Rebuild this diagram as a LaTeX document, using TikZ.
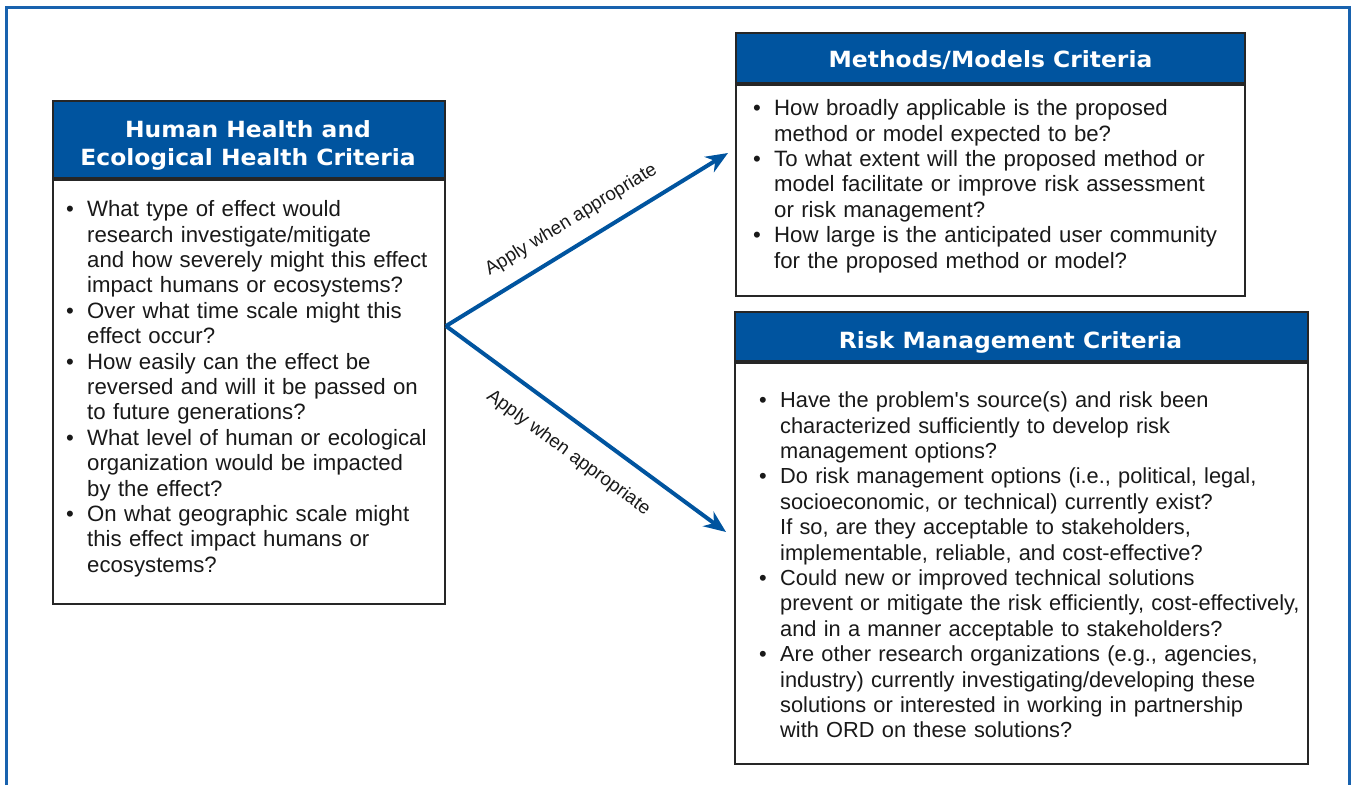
\documentclass[tikz,border=0pt]{standalone}
\usepackage{fontspec}
\setmainfont{Liberation Sans}
\newfontfamily\hdrfont[FakeStretch=1.05]{DejaVu Sans}
\usetikzlibrary{arrows.meta,positioning}
\definecolor{epablue}{RGB}{0,84,159}
\definecolor{framecol}{RGB}{24,98,174}
\newcommand{\bul}{\par\hangindent=21pt\hangafter=1\noindent\makebox[21pt][l]{\strut\textbullet}}
\newcommand{\nl}{\newline}
\tikzset{
  critbox/.style={draw=black!85, line width=2pt, fill=white, inner sep=0pt},
  hdrbox/.style={draw=black!85, line width=2pt, fill=epablue, inner sep=0pt},
  hdrtxt/.style={text=white, inner sep=0pt, align=center, font=\hdrfont\bfseries\fontsize{22.3}{28}\selectfont},
  crit/.style={anchor=north west, inner sep=0pt, align=left, text=black!90, font=\fontsize{22.2}{25.4}\selectfont},
  flow/.style={line width=4pt, draw=epablue, -{Stealth[length=22pt,width=18pt,inset=7pt]}},
  applylbl/.style={sloped, inner sep=0pt, text=black!90, font=\fontsize{18.8}{22}\selectfont}
}
\begin{document}
\begin{tikzpicture}[x=1pt,y=-1pt]
\useasboundingbox (0,0) rectangle (1351,785);
\draw[framecol, line width=2.5pt] (6.5,785) -- (6.5,7.5) -- (1349.5,7.5) -- (1349.5,785);

\node[critbox, anchor=north west, minimum width=392pt, minimum height=424pt] (hhBody) at (52,179) {};
\node[hdrbox, above=0pt of hhBody, minimum width=392pt, minimum height=77pt] (hhHead) {};
\node[hdrtxt] (hhTitle) at ([shift={(-1,5.5)}]hhHead.center) {Human Health and\\Ecological Health Criteria};
\node[crit, text width=390pt] (hhText) at ([shift={(14,12)}]hhBody.north west) {%
\bul What type of effect would\nl research investigate/mitigate\nl and how severely might this effect\nl impact humans or ecosystems?
\bul Over what time scale might this\nl effect occur?
\bul How easily can the effect be\nl reversed and will it be passed on\nl to future generations?
\bul What level of human or ecological\nl organization would be impacted\nl by the effect?
\bul On what geographic scale might\nl this effect impact humans or\nl ecosystems?\par};

\node[critbox, anchor=north west, minimum width=509pt, minimum height=211pt] (mmBody) at (735,84) {};
\node[hdrbox, above=0pt of mmBody, minimum width=509pt, minimum height=50pt] (mmHead) {};
\node[hdrtxt, anchor=base] (mmTitle) at ([shift={(0,9)}]mmHead.center) {Methods/Models Criteria};
\node[crit, text width=520pt] (mmText) at ([shift={(18,6)}]mmBody.north west) {%
\bul How broadly applicable is the proposed\nl method or model expected to be?
\bul To what extent will the proposed method or\nl model facilitate or improve risk assessment\nl or risk management?
\bul How large is the anticipated user community\nl for the proposed method or model?\par};

\node[critbox, anchor=north west, minimum width=573pt, minimum height=401pt] (rmBody) at (734,362) {};
\node[hdrbox, above=0pt of rmBody, minimum width=573pt, minimum height=49pt] (rmHead) {};
\node[hdrtxt, anchor=base] (rmTitle) at ([shift={(-11,11.5)}]rmHead.center) {Risk Management Criteria};
\node[crit, text width=580pt, font=\fontsize{21.8}{25.4}\selectfont] (rmText) at ([shift={(25,20)}]rmBody.north west) {%
\bul Have the problem\textquotesingle s source(s) and risk been\nl characterized sufficiently to develop risk\nl management options?
\bul Do risk management options (i.e., political, legal,\nl socioeconomic, or technical) currently exist?\nl If so, are they acceptable to stakeholders,\nl implementable, reliable, and cost-effective?
\bul Could new or improved technical solutions\nl prevent or mitigate the risk efficiently, cost-effectively,\nl and in a manner acceptable to stakeholders?
\bul Are other research organizations (e.g., agencies,\nl industry) currently investigating/developing these\nl solutions or interested in working in partnership\nl with ORD on these solutions?\par};

\coordinate (fork) at (446,326);
\coordinate (mmTip) at (728,153);
\coordinate (rmTip) at (726,532);
\draw[flow] (fork) -- (mmTip) node[applylbl, pos=0.49, above=14pt] (mmLbl) {Apply when appropriate};
\draw[flow] (fork) -- (rmTip) node[applylbl, pos=0.5, below=19pt] (rmLbl) {Apply when appropriate};
\end{tikzpicture}
\end{document}
